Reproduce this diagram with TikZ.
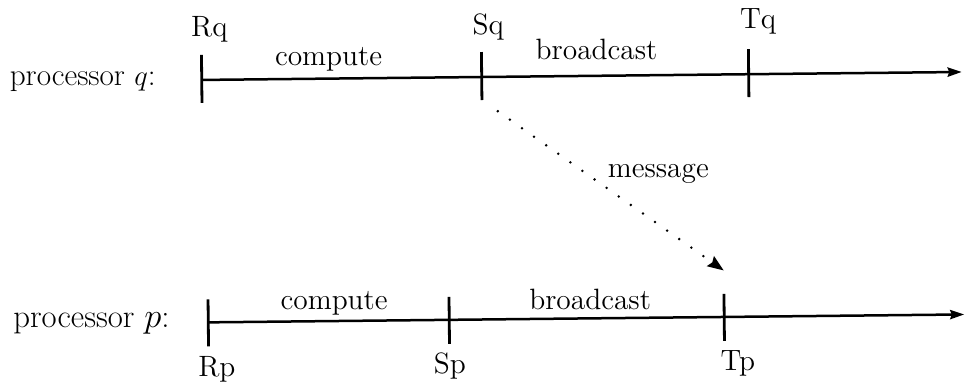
\documentclass[tikz,border=0pt]{standalone}
\usetikzlibrary{arrows.meta}
\begin{document}
\begin{tikzpicture}[x=0.5pt,y=-0.5pt,
  every node/.style={inner sep=0pt, outer sep=0pt, font=\fontsize{14.7}{17}\selectfont},
  axis/.style={line width=1.25pt, -{Stealth[length=7pt,width=4.6pt,inset=0.8pt]}},
  tickmark/.style={line width=1.4pt},
  msg/.style={line width=1.4pt, line cap=round, dash pattern=on 0pt off 7.4pt,
    shorten <=9.7pt, -{Stealth[length=8pt,width=6pt,inset=1pt]}},
  qtext/.style={font=\fontsize{15.6}{18}\selectfont},
  ptext/.style={font=\fontsize{16.4}{19}\selectfont}]
\useasboundingbox (0,0) rectangle (966,385);
\begin{scope}[rotate around={0.6:(483,200)}]
  % processor q
  \coordinate (tRq) at (203,77);
  \coordinate (tSq) at (483,77);
  \coordinate (tTq) at (750,77);
  \coordinate (qend) at (963,77);
  \draw[axis] (tRq) -- (qend);
  \draw[tickmark] (tRq) ++(0,-25) -- ++(0,48);
  \draw[tickmark] (tSq) ++(0,-25) -- ++(0,48) coordinate (tSqb);
  \draw[tickmark] (tTq) ++(0,-25) -- ++(0,48);
  \node[anchor=base] (Rq) at (211,34) {Rq};
  \node[anchor=base] (Sq) at (490,35) {Sq};
  \node[anchor=base] (Tq) at (760,31) {Tq};
  \node[anchor=base] (cq) at (330,64) {compute};
  \node[anchor=base] (bq) at (598,61) {broadcast};
  \node[anchor=base west, qtext] (pq) at (11,81) {processor $q$:};
  % processor p
  \coordinate (tRp) at (207,319.5);
  \coordinate (tSp) at (448,319.5);
  \coordinate (tTp) at (723,319.5);
  \coordinate (pend) at (963,319.5);
  \draw[axis] (tRp) -- (pend);
  \draw[tickmark] (tRp) ++(0,-23) -- ++(0,47);
  \draw[tickmark] (tSp) ++(0,-23) -- ++(0,47);
  \draw[tickmark] (tTp) ++(0,-23) -- ++(0,47);
  \node[anchor=base] (Rp) at (215,374) {Rp};
  \node[anchor=base] (Sp) at (448,373) {Sp};
  \node[anchor=base] (Tp) at (736,373) {Tp};
  \node[anchor=base] (cp) at (333,308) {compute};
  \node[anchor=base] (bp) at (589,311) {broadcast};
  \node[anchor=base west, ptext] (pp) at (12,323) {processor $p$:};
  % message
  \coordinate (msgend) at (723,273);
  \draw[msg] (tSqb) -- (msgend);
  \node[anchor=base west] (msgl) at (608,179) {message};
\end{scope}
\end{tikzpicture}
\end{document}
